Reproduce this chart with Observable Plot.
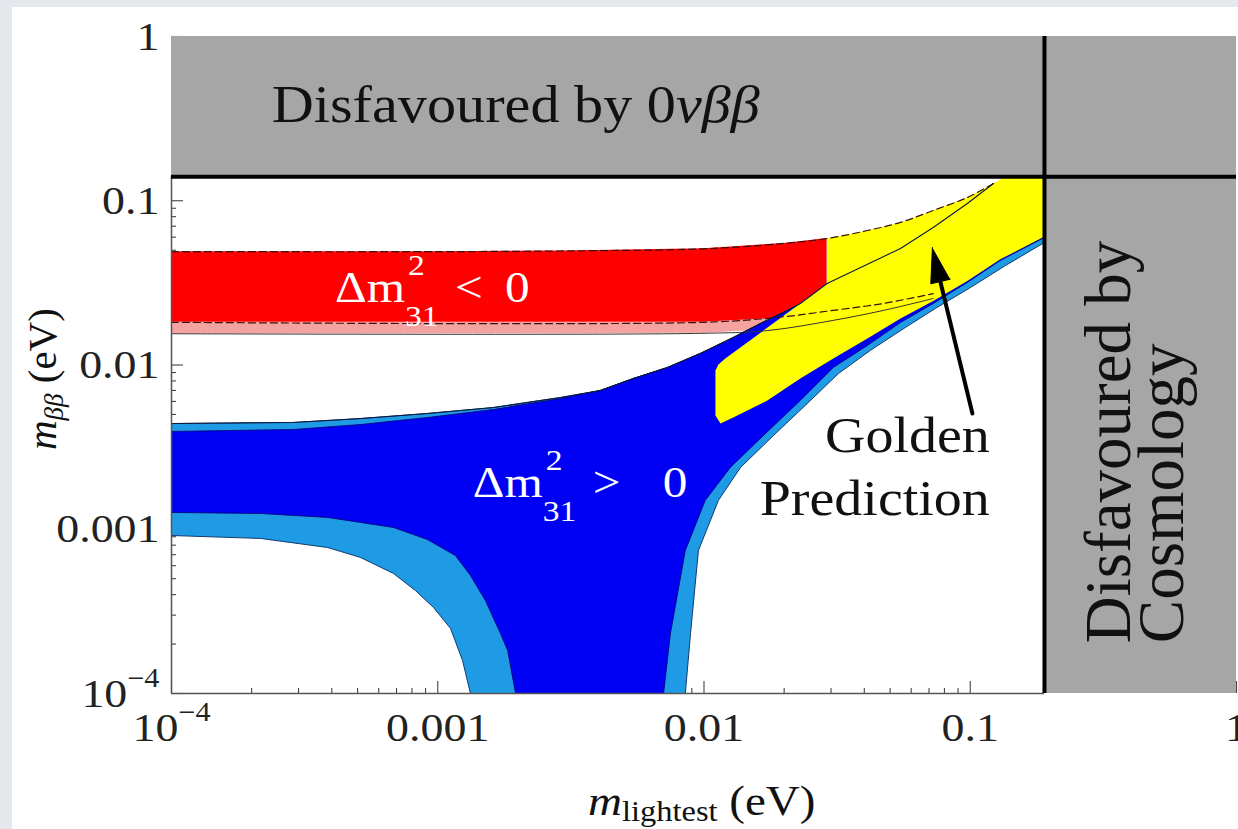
<!DOCTYPE html>
<html><head><meta charset="utf-8">
<script src="https://cdn.jsdelivr.net/npm/d3@7"></script>
<script src="https://cdn.jsdelivr.net/npm/@observablehq/plot@0.6"></script>
<style>
html,body{margin:0;padding:0;background:#e4e8ed;width:1238px;height:829px;overflow:hidden;}
#wrap{position:absolute;left:12px;top:7px;width:1226px;height:822px;background:#fff;overflow:hidden;}
</style></head><body><div id="wrap"></div>
<script>
// ---------- axis ticks ----------
const X_TICKS = [1e-4, 1e-3, 1e-2, 1e-1, 1];
const X_TICK_LABELS = ["10^\u22124", "0.001", "0.01", "0.1", "1"];
const Y_TICKS = [1e-4, 1e-3, 1e-2, 1e-1, 1];
const Y_TICK_LABELS = ["10^\u22124", "0.001", "0.01", "0.1", "1"];

// ---------- disfavoured limits ----------
const LIMIT_0NBB = 0.14;      // m_bb upper bound
const LIMIT_COSMO = 0.19;     // m_lightest upper bound
const BANDS_X1 = [1e-4, LIMIT_COSMO];
const BANDS_X2 = [1, 1];
const BANDS_Y1 = [LIMIT_0NBB, 1e-4];
const BANDS_Y2 = [1, 1];

// ---------- inverted hierarchy (Δm²31 < 0) ----------
const IH_X = [1e-4, 0.001, 0.003, 0.01, 0.02, 0.029];
const IH_TOP = [0.049, 0.049, 0.0495, 0.051, 0.055, 0.0589];
const IH_LOW = [0.0182, 0.0182, 0.0182, 0.0182, 0.0193, 0.0209];
const IH_LOW_WIDE = [0.0155, 0.0155, 0.0155, 0.0156, 0.0166, 0.0183];
const IH_TOP_LINE_X = [1e-4, 0.001, 0.003, 0.01, 0.02, 0.029, 0.0411, 0.0547, 0.0726, 0.0975, 0.1222];
const IH_TOP_LINE_Y = [0.049, 0.049, 0.0495, 0.051, 0.055, 0.0589, 0.0659, 0.0738, 0.0873, 0.1047, 0.1273];
const IH_LOW_LINE_X = [1e-4, 0.01, 0.0189, 0.0306, 0.0472, 0.0726];
const IH_LOW_LINE_Y = [0.0182, 0.0182, 0.0195, 0.0215, 0.0237, 0.0272];
const IH_WIDE_LINE_X = [1e-4, 0.01, 0.0173, 0.0306, 0.0472, 0.0726];
const IH_WIDE_LINE_Y = [0.0155, 0.0156, 0.0162, 0.0187, 0.0215, 0.0254];

// ---------- normal hierarchy (Δm²31 > 0) ----------
const NH_TOP_X = [1e-4, 2.87e-4, 5.13e-4, 9.14e-4, 0.00162, 0.00289, 0.00408, 0.00543, 0.00729, 0.00968, 0.01288, 0.01629, 0.02056, 0.0230, 0.0290, 0.0547, 0.0726, 0.0975, 0.1222, 0.19];
const NH_TOP_Y = [0.00440, 0.00447, 0.00472, 0.00507, 0.00551, 0.00634, 0.00700, 0.00828, 0.00966, 0.01175, 0.01470, 0.01790, 0.02147, 0.02366, 0.03135, 0.0512, 0.0687, 0.0962, 0.1273, 0.14];
const NH_CORE_TOP_X = [1e-4, 2.87e-4, 5.13e-4, 9.14e-4, 0.00162, 0.00289];
const NH_CORE_TOP_Y = [0.00394, 0.00405, 0.00434, 0.00479, 0.00536, 0.00625];
const NH_OUTER_R_X = [0.19, 0.1355, 0.1001, 0.0740, 0.0570, 0.0421, 0.0320, 0.0240, 0.01823, 0.01372, 0.01133, 0.00953, 0.00890, 0.00851];
const NH_OUTER_R_Y = [0.0557, 0.0403, 0.0296, 0.0221, 0.0169, 0.01226, 0.00888, 0.00567, 0.00372, 0.00238, 0.00150, 0.000743, 0.000232, 1e-4];
const NH_OUTER_L_X = [0.001327, 0.001239, 0.001117, 0.000964, 0.000824, 0.000682, 0.000513, 0.000386, 0.000216, 1e-4];
const NH_OUTER_L_Y = [1e-4, 0.000159, 0.000249, 0.000334, 0.000424, 0.000538, 0.000673, 0.000774, 0.000879, 0.000916];
const NH_CORE_R_X = [0.19, 0.1297, 0.0975, 0.0726, 0.0547, 0.0411, 0.0306, 0.0230, 0.01703, 0.01256, 0.01011, 0.00851, 0.00748, 0.00705];
const NH_CORE_R_Y = [0.0598, 0.0433, 0.0318, 0.02366, 0.01815, 0.01315, 0.00966, 0.00608, 0.00383, 0.00238, 0.00150, 0.000743, 0.000232, 1e-4];
const NH_CORE_L_X = [0.00196, 0.00183, 0.00172, 0.00151, 0.001327, 0.001164, 9.14e-4, 0.000682, 0.000386, 0.000216, 1e-4];
const NH_CORE_L_Y = [1e-4, 0.000183, 0.000232, 0.000368, 0.000523, 0.000692, 0.000866, 0.001025, 0.00118, 0.001247, 0.001265];

// ---------- golden prediction ----------
const GOLD_X = [0.01153, 0.01104, 0.01104, 0.01133, 0.01202, 0.0230, 0.0290, 0.0290, 0.0411, 0.0547, 0.0726, 0.0975, 0.1222, 0.135, 0.19, 0.19, 0.1297, 0.0975, 0.0726, 0.0547, 0.0411, 0.0306, 0.0230, 0.0173, 0.01288];
const GOLD_Y = [0.00440, 0.00493, 0.00925, 0.01007, 0.01096, 0.02366, 0.03135, 0.0589, 0.0659, 0.0738, 0.0873, 0.1047, 0.1273, 0.14, 0.14, 0.0605, 0.0440, 0.0325, 0.0245, 0.0192, 0.01449, 0.01096, 0.00828, 0.00608, 0.00479];
const ARROW_X = [0.1019, 0.0772];   // tail, head base
const ARROW_Y = [0.00507, 0.0322];
const HEAD_X = [0.0721, 0.0711, 0.0841];
const HEAD_Y = [0.0519, 0.0312, 0.0333];

// ---------- annotation anchors (data coords) ----------
const LBL_0NBB = [2.39e-4, 0.2995];
const LBL_IH = [4.13e-4, 0.0240];
const LBL_NH = [0.00136, 0.00156];
const LBL_GOLDEN_X = 0.119;
const LBL_GOLDEN_Y = [0.00293, 0.00121];
const LBL_COSMO_X = [0.399, 0.631];
const LBL_COSMO_Y = 0.000201;

// ---------- helpers ----------
const zip = (xs, ys) => xs.map((x, i) => [x, ys[i]]);
const SERIF = "'Liberation Serif','Times New Roman',serif";
const GRAY = "#a6a6a6";
const STRETCH = 1.12;
const W = 1226, H = 822, ML = 159, MR = 2, MT = 29, MB = 136;
const FW = W - ML - MR, FH = H - MT - MB;

const outerPoly = [...zip(NH_TOP_X, NH_TOP_Y), ...zip(NH_OUTER_R_X, NH_OUTER_R_Y), ...zip(NH_OUTER_L_X, NH_OUTER_L_Y)];
const corePoly = [...zip(NH_CORE_TOP_X, NH_CORE_TOP_Y), ...zip(NH_TOP_X.slice(6), NH_TOP_Y.slice(6)),
                  ...zip(NH_CORE_R_X, NH_CORE_R_Y), ...zip(NH_CORE_L_X, NH_CORE_L_Y)];
const goldPoly = zip(GOLD_X, GOLD_Y);
const ih = IH_X.map((x, i) => ({x, top: IH_TOP[i], low: IH_LOW[i], wide: IH_LOW_WIDE[i]}));
const bands = BANDS_X1.map((x1, i) => ({x1, x2: BANDS_X2[i], y1: BANDS_Y1[i], y2: BANDS_Y2[i]}));

const allTicks = d3.scaleLog().domain([1e-4, 1]).ticks();
const isMajor = d => Math.abs(Math.log10(d) - Math.round(Math.log10(d))) < 1e-9;
const minorT = allTicks.filter(d => !isMajor(d));
const majorT = allTicks.filter(isMajor);
const P = {x: d => d[0], y: d => d[1]};
const TICK = {stroke: "#444", strokeWidth: 1.1};
const SMOOTH = "catmull-rom";

const plot = Plot.plot({
  width: W, height: H,
  marginLeft: ML, marginRight: MR, marginTop: MT, marginBottom: MB,
  style: {background: "#fff", overflow: "visible"},
  x: {type: "log", domain: [1e-4, 1]},
  y: {type: "log", domain: [1e-4, 1]},
  marks: [
    // inward ticks
    Plot.tickY(minorT, {y: d => d, insetRight: FW - 5, ...TICK}),
    Plot.tickY(majorT, {y: d => d, insetRight: FW - 12, ...TICK}),
    Plot.tickX(minorT, {x: d => d, insetTop: FH - 5, ...TICK}),
    Plot.tickX(majorT, {x: d => d, insetTop: FH - 12, ...TICK}),
    // inverted hierarchy
    Plot.areaY(ih, {x: "x", y1: "wide", y2: "low", fill: "#f5a3a0", curve: "linear"}),
    Plot.areaY(ih, {x: "x", y1: "low", y2: "top", fill: "#ff0000", curve: "linear"}),
    // normal hierarchy
    Plot.line(outerPoly, {...P, fill: "#1f9be6", stroke: "#123a6e", strokeWidth: 1, curve: "linear", clip: true}),
    Plot.line(corePoly, {...P, fill: "#0000f5", stroke: "#000070", strokeWidth: 0.8, curve: "linear", clip: true}),
    // golden prediction
    Plot.line(goldPoly, {...P, fill: "#ffff00", stroke: "none", curve: "linear", clip: true}),
    // boundary lines
    Plot.line(zip(IH_TOP_LINE_X, IH_TOP_LINE_Y), {...P, stroke: "#3a1010", strokeWidth: 1.2, strokeDasharray: "7,4", curve: SMOOTH}),
    Plot.line(zip(IH_LOW_LINE_X, IH_LOW_LINE_Y), {...P, stroke: "#3a1010", strokeWidth: 1.2, strokeDasharray: "7,4", curve: SMOOTH}),
    Plot.line(zip(IH_WIDE_LINE_X, IH_WIDE_LINE_Y), {...P, stroke: "#333", strokeWidth: 1, curve: SMOOTH}),
    Plot.line(zip(NH_TOP_X.slice(0, 19), NH_TOP_Y.slice(0, 19)), {...P, stroke: "#0a1a40", strokeWidth: 1.1, curve: "linear"}),
    // arrow
    Plot.line(zip(ARROW_X, ARROW_Y), {...P, stroke: "#000", strokeWidth: 4}),
    Plot.line(zip(HEAD_X, HEAD_Y), {...P, fill: "#000", stroke: "#000", strokeWidth: 1, curve: "linear"}),
    // axis lines
    Plot.ruleX([1e-4], {y1: 1e-4, y2: LIMIT_0NBB, stroke: "#555", strokeWidth: 1.5}),
    Plot.ruleY([1e-4], {x1: 1e-4, x2: LIMIT_COSMO, stroke: "#555", strokeWidth: 1.5}),
    // disfavoured regions
    Plot.rect(bands, {x1: "x1", x2: "x2", y1: "y1", y2: "y2", fill: GRAY}),
    Plot.ruleY([LIMIT_0NBB], {x1: 1e-4, x2: 1, stroke: "#000", strokeWidth: 4}),
    Plot.ruleX([LIMIT_COSMO], {y1: 1e-4, y2: 1, stroke: "#000", strokeWidth: 4}),
    // axes
    Plot.axisX(X_TICKS, {anchor: "bottom", tickSize: 0, tickPadding: 18, fontSize: 41, fontFamily: SERIF, fill: "#222",
      tickFormat: d => X_TICK_LABELS[X_TICKS.indexOf(d)], label: null}),
    Plot.axisY(Y_TICKS, {anchor: "left", tickSize: 0, tickPadding: 12, fontSize: 41, fontFamily: SERIF, fill: "#222",
      tickFormat: d => Y_TICK_LABELS[Y_TICKS.indexOf(d)], label: null})
  ]
});
document.getElementById("wrap").appendChild(plot);

const root = d3.select(plot);
// stretch tick labels and build superscripts
root.selectAll('g[aria-label$="tick label"] text').each(function () {
  const el = d3.select(this);
  const s = el.text();
  el.attr("transform", (el.attr("transform") || "") + ` scale(${STRETCH},1)`);
  if (s.includes("^")) {
    const [b, e] = s.split("^");
    el.text(null);
    el.append("tspan").text(b);
    el.append("tspan").attr("dy", -20).attr("font-size", 27).text(e);
  }
});

const sx = plot.scale("x"), sy = plot.scale("y");
const g = root.append("g").attr("class", "annotations");
function addText(x, y, parts, {size = 40, anchor = "start", rotate = 0, fill = "#111", stretch = STRETCH} = {}) {
  const t = g.append("text")
    .attr("transform", `translate(${x},${y}) scale(${stretch},1)` + (rotate ? ` rotate(${rotate})` : ""))
    .attr("text-anchor", anchor).attr("font-family", SERIF).attr("font-size", size).attr("fill", fill);
  for (const p of parts) {
    const ts = t.append("tspan").text(p.t);
    if (p.italic) ts.attr("font-style", "italic");
    if (p.size) ts.attr("font-size", p.size);
    if (p.dy) ts.attr("dy", p.dy);
  }
  return t;
}

// Disfavoured by 0νββ
addText(sx.apply(LBL_0NBB[0]), sy.apply(LBL_0NBB[1]),
  [{t: "Disfavoured by 0"}, {t: "\u03BD\u03B2\u03B2", italic: true}], {size: 52});

// Disfavoured by Cosmology (rotated)
addText(sx.apply(LBL_COSMO_X[0]), sy.apply(LBL_COSMO_Y), [{t: "Disfavoured by"}], {size: 65, rotate: -90, stretch: 1});
addText(sx.apply(LBL_COSMO_X[1]), sy.apply(LBL_COSMO_Y), [{t: "Cosmology"}], {size: 65, rotate: -90, stretch: 1});

// Δm²31 labels
function deltaLabel(pos, sign, gap) {
  const x = sx.apply(pos[0]), y = sy.apply(pos[1]);
  addText(x, y, [{t: "\u0394m"}], {size: 44, fill: "#fff"});
  addText(x + 73, y - 27, [{t: "2"}], {size: 30, fill: "#fff"});
  addText(x + 70, y + 24, [{t: "31"}], {size: 30, fill: "#fff"});
  addText(x + 120, y, [{t: sign}], {size: 44, fill: "#fff"});
  addText(x + 120 + gap, y, [{t: "0"}], {size: 44, fill: "#fff"});
}
deltaLabel(LBL_IH, "<", 50);
deltaLabel(LBL_NH, ">", 70);

// Golden Prediction
addText(sx.apply(LBL_GOLDEN_X), sy.apply(LBL_GOLDEN_Y[0]), [{t: "Golden"}], {size: 50, anchor: "end"});
addText(sx.apply(LBL_GOLDEN_X), sy.apply(LBL_GOLDEN_Y[1]), [{t: "Prediction"}], {size: 50, anchor: "end"});

// axis titles
addText(576, 808, [{t: "m", italic: true}, {t: "lightest", size: 29, dy: 6}, {t: " (eV)", dy: -6}], {size: 42});
addText(44, 443, [{t: "m", italic: true}, {t: "\u03B2\u03B2", italic: true, size: 27, dy: 7}, {t: " (eV)", dy: -7}], {size: 41, rotate: -90, stretch: 1});
</script></body></html>
